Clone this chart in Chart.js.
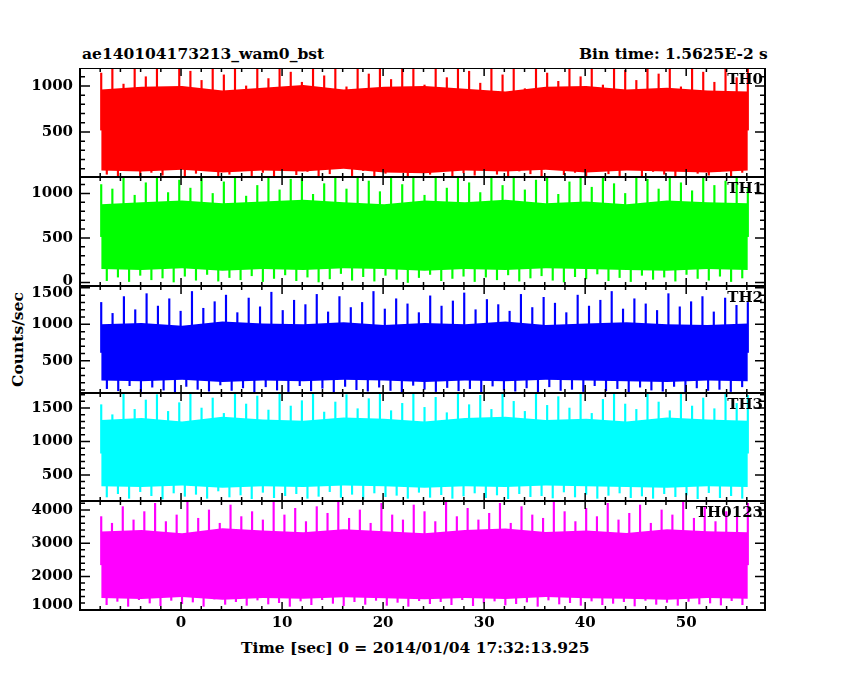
<!DOCTYPE html>
<html><head><meta charset="utf-8">
<script src="https://cdn.jsdelivr.net/npm/chart.js@4/dist/chart.umd.min.js"></script>
<style>
body{margin:0;background:#fff;width:850px;height:680px;position:relative;overflow:hidden}
canvas{position:absolute;left:0}
.t{position:absolute;font-family:"DejaVu Serif",serif;font-weight:bold;font-size:15.5px;color:#000;white-space:nowrap}
</style></head><body>
<div class="t" style="left:82px;top:44px">ae140104173213_wam0_bst</div>
<div class="t" style="left:579px;top:44px">Bin time: 1.5625E-2 s</div>
<div class="t" style="left:-30px;top:330px;transform:rotate(-90deg)">Counts/sec</div>
<div class="t" style="left:241px;top:638px">Time [sec] 0 = 2014/01/04 17:32:13.925</div>
<script>
var tStart = -7.9, tEnd = 56.1;
var panelNames = ["TH0", "TH1", "TH2", "TH3", "TH0123"];
var panelColors = ["#ff0000", "#00ff00", "#0000ff", "#00ffff", "#ff00ff"];
var yMin = [10, -40, 60, 110, 990];
var yMax = [1195, 1185, 1525, 1725, 4270];
var yMajor = [500, 500, 500, 500, 1000];
var yMinor = [100, 100, 100, 100, 200];
var tickShown = [[500, 1000], [0, 500, 1000], [500, 1000, 1500], [500, 1000, 1500], [1000, 2000, 3000, 4000]];
var xTickLabels = [0, 10, 20, 30, 40, 50];

var coreTop0 = [960, 990, 1000, 950, 980, 1010, 960, 990, 1000, 970, 940, 990, 1000, 960, 980, 950, 940];
var coreBot0 = [80, 70, 90, 60, 80, 70, 100, 60, 50, 80, 70, 90, 60, 80, 70, 60, 80];
var spikes0 = [1140,40,1195,20,1020,90,1195,15,1100,60,1195,30,980,100,1195,20,1160,50,1060,80,1195,15,1120,40,1195,110,1000,25,1195,60,1080,15,1195,90,1150,35,1040,70,1195,20,1110,45,1195,120,990,25,1195,80,1130,15,1195,50,1070,100,1195,20,1180,65,1010,40,1195,85,1090,15,1195,55,1160,30,1030,95,1195,40,1120,15,1195,75,970,45,1195,20,1140,105,1050,35,1195,60,1100,15,1195,80,1010,45,1195,25,1170,90,1060,20,1195,70,1130,40,1195,15,990,100,1195,50,1150,30,1040,75,1195,20,1090,60,1195];

var coreTop1 = [880, 900, 920, 890, 910, 930, 900, 880, 920, 900, 930, 890, 910, 880, 920, 900, 890];
var coreBot1 = [150, 140, 160, 130, 150, 140, 160, 150, 130, 150, 140, 160, 150, 140, 130, 150, 140];
var spikes1 = [1100,20,1050,60,1185,10,980,80,1120,30,1185,50,1010,5,1150,70,1060,25,1185,90,1000,15,1130,55,1185,30,970,75,1090,10,1185,45,1040,85,1160,20,1185,60,990,5,1110,40,1185,100,1050,25,1185,65,1140,15,1020,80,1185,35,1100,0,1185,55,980,90,1170,20,1060,45,1185,70,1120,10,1010,60,1185,30,1090,85,1185,15,1040,50,1150,75,1185,25,990,5,1130,65,1185,40,1070,95,1185,20,1110,55,1000,10,1185,80,1160,35,1050,60,1185,15,1120,90,1030,45,1185,25,1090,70,1140,10,1185,50,1060];

var coreTop2 = [1000, 1020, 980, 1040, 1010, 1000, 1030, 990, 1020, 1000, 1040, 990, 1010, 1030, 1000, 990, 1010];
var coreBot2 = [230, 220, 240, 210, 230, 220, 240, 230, 210, 230, 220, 240, 230, 220, 210, 230, 220];
var spikes2 = [1300,120,1150,90,1380,160,1200,80,1420,140,1250,100,1350,70,1180,150,1450,110,1220,85,1310,170,1400,95,1160,130,1360,75,1240,145,1440,100,1190,80,1330,160,1270,90,1410,125,1170,70,1380,150,1230,105,1300,85,1450,140,1210,95,1350,75,1280,165,1160,110,1390,80,1250,135,1320,90,1430,120,1200,70,1340,155,1270,100,1180,85,1410,130,1230,75,1370,145,1290,95,1160,110,1400,80,1250,160,1330,90,1450,120,1210,70,1350,140,1280,100,1190,85,1420,150,1240,75,1310,130,1380,95,1170,110,1360,80,1260,145,1300];

var coreTop3 = [1320, 1350, 1300, 1370, 1330, 1310, 1360, 1340, 1300, 1350, 1370, 1320, 1340, 1300, 1360, 1330, 1310];
var coreBot3 = [330, 320, 340, 310, 330, 320, 340, 330, 310, 330, 320, 340, 330, 320, 310, 330, 320];
var spikes3 = [1550,170,1400,220,1720,150,1480,250,1620,190,1700,140,1450,230,1580,180,1720,210,1500,150,1650,260,1420,170,1720,200,1560,145,1680,240,1470,160,1720,190,1530,220,1610,150,1720,180,1440,250,1590,165,1700,210,1490,140,1640,230,1720,175,1460,195,1570,150,1720,240,1510,165,1660,205,1430,150,1720,185,1550,230,1690,160,1480,200,1720,145,1600,220,1450,175,1720,190,1540,155,1670,245,1500,170,1720,210,1420,150,1630,195,1720,230,1560,160,1480,185,1710,150,1590,220,1460,175,1720,200,1530,145,1650,235,1490,160,1720,190,1570,150,1690];

var coreTop4 = [3350, 3400, 3300, 3450, 3380, 3330, 3420, 3360, 3300, 3400, 3440, 3340, 3380, 3310, 3420, 3360, 3330];
var coreBot4 = [1350, 1320, 1380, 1300, 1350, 1330, 1370, 1340, 1310, 1350, 1320, 1380, 1340, 1330, 1300, 1350, 1330];
var spikes4 = [3800,1150,3600,1250,4100,1100,3700,1300,3950,1200,4200,1120,3650,1280,3850,1180,4270,1230,3750,1100,4000,1320,3600,1160,4150,1240,3800,1130,3950,1290,3700,1170,4250,1210,3850,1100,4050,1260,3650,1150,4100,1300,3900,1190,4270,1120,3750,1240,4000,1160,3600,1280,4200,1130,3850,1220,3700,1100,4150,1270,3950,1180,3650,1240,4270,1150,3800,1300,4050,1120,3700,1200,3900,1260,4200,1140,3600,1180,4100,1230,3850,1100,3750,1290,4270,1170,3950,1210,3650,1130,4050,1260,3800,1150,4200,1190,3700,1240,3900,1110,4150,1280,3600,1160,4000,1220,3850,1130,4270,1250,3750,1170,4100,1200,3650,1140,3950,1270,3800,1150,4200];

var coreTop = [coreTop0, coreTop1, coreTop2, coreTop3, coreTop4];
var coreBot = [coreBot0, coreBot1, coreBot2, coreBot3, coreBot4];
var spikes = [spikes0, spikes1, spikes2, spikes3, spikes4];
var panelTop = [68, 177, 286, 393, 501];
var panelBottom = [177, 286, 393, 501, 610];

function toXY(arr){
    var out = [];
    var step = (tEnd - tStart) / (arr.length - 1);
    for (var i = 0; i < arr.length; i++) out.push({x: tStart + i * step, y: arr[i]});
    return out;
}

// spikes as thin floating bars from the middle of the band out to each value
function toBars(arr, top, bot){
    var mid = (top[0] + bot[0]) / 2;
    var out = [];
    var step = (tEnd - tStart) / (arr.length - 1);
    for (var i = 0; i < arr.length; i++) out.push({x: tStart + i * step, y: [mid, arr[i]]});
    return out;
}

var font = 'bold 15px "DejaVu Serif"';
var tickPlugin = {
    id: 'innerTicks',
    afterDraw: function(chart){
        var ctx = chart.ctx, a = chart.chartArea;
        var xs = chart.scales.x, ys = chart.scales.y;
        var p = chart.options.plugins.innerTicks;
        ctx.save();
        ctx.strokeStyle = '#000';
        ctx.lineWidth = 2;
        ctx.strokeRect(a.left, a.top, a.right - a.left, a.bottom - a.top);
        ctx.lineWidth = 1.5;
        ctx.beginPath();
        for (var t = -8; t <= 56; t += 2) {
            var px = xs.getPixelForValue(t);
            var len = (t % 10 === 0) ? 8 : 4;
            ctx.moveTo(px, a.top); ctx.lineTo(px, a.top + len);
            ctx.moveTo(px, a.bottom); ctx.lineTo(px, a.bottom - len);
        }
        var start = Math.ceil(p.min / p.minor) * p.minor;
        for (var v = start; v <= p.max; v += p.minor) {
            var py = ys.getPixelForValue(v);
            var l = (v % p.major === 0) ? 10 : 5;
            ctx.moveTo(a.left, py); ctx.lineTo(a.left + l, py);
            ctx.moveTo(a.right, py); ctx.lineTo(a.right - l, py);
        }
        ctx.stroke();
        ctx.fillStyle = '#000';
        ctx.font = font;
        ctx.textAlign = 'right';
        ctx.textBaseline = 'top';
        ctx.fillText(p.name, a.right - 2, a.top + 5);
        ctx.textBaseline = 'middle';
        p.shown.forEach(function(v){
            var py = Math.max(a.top + 7, Math.min(a.bottom - 5, ys.getPixelForValue(v)));
            ctx.fillText(String(v), a.left - 7, py);
        });
        if (p.last) {
            ctx.textAlign = 'center';
            ctx.textBaseline = 'top';
            xTickLabels.forEach(function(v){ ctx.fillText(String(v), xs.getPixelForValue(v), a.bottom + 6); });
        }
        ctx.restore();
    }
};

for (var k = 0; k < 5; k++) {
    var last = (k === 4);
    var cv = document.createElement('canvas');
    var h = panelBottom[k] - panelTop[k] + (last ? 30 : 0);
    cv.width = 850; cv.height = h;
    cv.style.top = panelTop[k] + 'px';
    document.body.appendChild(cv);
    new Chart(cv, {
        data: {
            datasets: [
                {type: 'line', data: toXY(coreTop[k]), borderWidth: 0, pointRadius: 0, fill: false, borderColor: panelColors[k]},
                {type: 'line', data: toXY(coreBot[k]), borderWidth: 0, pointRadius: 0, fill: '-1', backgroundColor: panelColors[k], borderColor: panelColors[k]},
                {type: 'bar', data: toBars(spikes[k], coreTop[k], coreBot[k]), barThickness: 1.5, backgroundColor: panelColors[k], borderWidth: 0}
            ]
        },
        plugins: [tickPlugin],
        options: {
            responsive: false, animation: false, maintainAspectRatio: false, devicePixelRatio: 1,
            layout: {padding: {left: 80, right: 85, top: 0, bottom: last ? 30 : 0}},
            plugins: {
                legend: {display: false}, tooltip: {enabled: false},
                innerTicks: {name: panelNames[k], min: yMin[k], max: yMax[k], major: yMajor[k], minor: yMinor[k], shown: tickShown[k], last: last}
            },
            scales: {
                x: {type: 'linear', min: -10, max: 57.8, display: false, offset: false, grid: {offset: false}},
                y: {min: yMin[k], max: yMax[k], display: false}
            }
        }
    });
}
</script>
</body></html>
